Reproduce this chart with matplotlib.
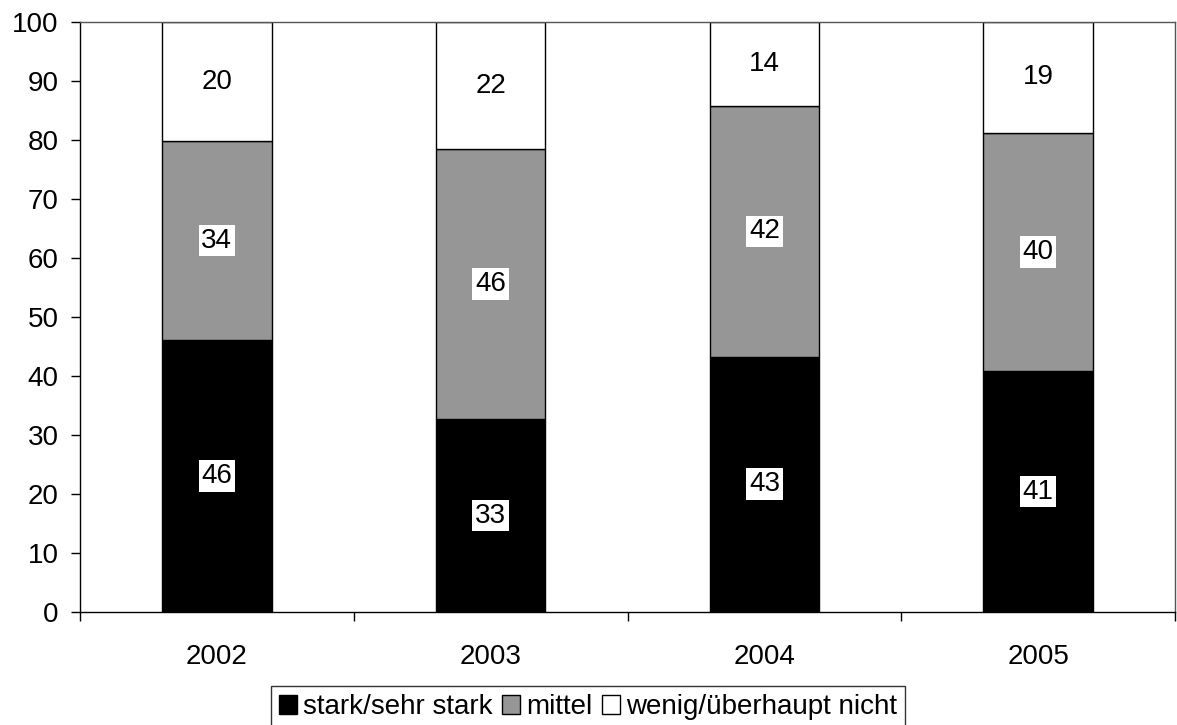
import matplotlib

matplotlib.use("Agg")
import matplotlib.pyplot as plt
import numpy as np
from matplotlib.patches import Patch

plt.rcParams["font.family"] = ["Liberation Sans", "DejaVu Sans"]

years = ["2002", "2003", "2004", "2005"]
stark = [46.1, 32.7, 43.3, 40.8]
mittel = [33.7, 45.7, 42.4, 40.4]
wenig = [20.2, 21.6, 14.3, 18.8]
series_names = ["stark/sehr stark", "mittel", "wenig/überhaupt nicht"]
colors = ["#000000", "#969696", "#ffffff"]

FS = 20

fig = plt.figure(figsize=(11.77, 7.25), dpi=100)
ax = fig.add_axes([80 / 1177, 1 - 612 / 725, 1095 / 1177, 590 / 725])

x = np.arange(len(years))
bottom = np.zeros(len(years))
for vals, color in zip([stark, mittel, wenig], colors):
    vals = np.array(vals)
    ax.bar(x, vals, width=0.4, bottom=bottom, color=color,
           edgecolor="black", linewidth=1, zorder=2)
    for xi, b, v in zip(x, bottom, vals):
        ax.text(xi, b + v / 2, f"{v:.0f}", ha="center", va="center",
                fontsize=FS, zorder=3,
                bbox=dict(boxstyle="square,pad=0.1", fc="white", ec="none"))
    bottom += vals

ax.set_xlim(-0.5, len(years) - 0.5)
ax.set_ylim(0, 100)
ax.set_yticks(range(0, 101, 10))
ax.tick_params(axis="y", labelsize=FS, length=6.5, width=1, pad=9)
ax.set_xticks(x)
ax.set_xticklabels(years)
ax.set_xticks(np.arange(-0.5, len(years), 1), minor=True)
ax.tick_params(axis="x", which="major", labelsize=FS, length=0, pad=23)
ax.tick_params(axis="x", which="minor", length=6.5, width=1)

for side in ("left", "bottom"):
    ax.spines[side].set_color("black")
    ax.spines[side].set_linewidth(1)
for side in ("top", "right"):
    ax.spines[side].set_color("#555555")
    ax.spines[side].set_linewidth(1)

handles = [Patch(facecolor=c, edgecolor="black", linewidth=1) for c in colors]
leg = fig.legend(handles, series_names, ncol=3, loc="upper center",
                 bbox_to_anchor=(588 / 1177, 1 - 686 / 725), fontsize=FS,
                 frameon=True, fancybox=False, edgecolor="black",
                 handlelength=0.65, handleheight=0.65, handletextpad=0.2,
                 columnspacing=0.35, borderpad=0.3, borderaxespad=0)
leg.get_frame().set_linewidth(1)

fig.savefig("out.png", facecolor="white")
